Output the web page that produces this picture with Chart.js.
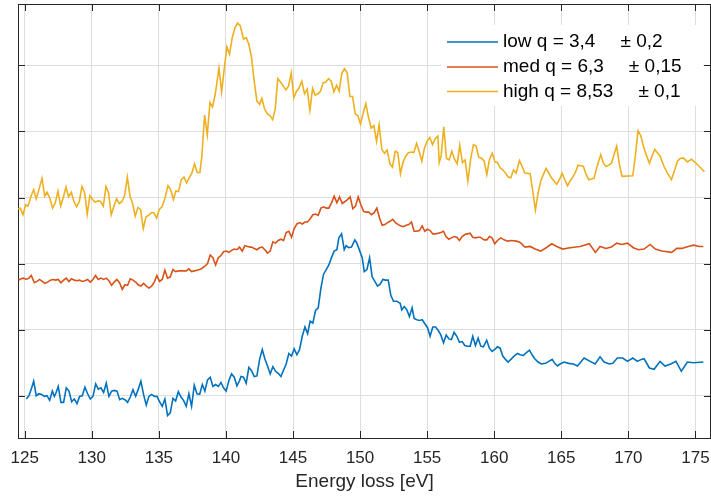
<!DOCTYPE html>
<html>
<head>
<meta charset="utf-8">
<script src="https://cdn.jsdelivr.net/npm/chart.js@4.4.0/dist/chart.umd.min.js"></script>
<style>
  html, body { margin: 0; padding: 0; background: #fff; }
  #wrap { width: 711px; height: 497px; }
</style>
</head>
<body>
<div id="wrap"><canvas id="eelsChart" width="711" height="497"></canvas></div>
<script>
// energy loss axis (eV) and intensity (arb. units)
const lowE = [125.12,125.32,125.52,125.67,125.86,126.06,126.26,126.46,126.66,126.86,127.06,127.21,127.31,127.50,127.70,127.90,128.10,128.30,128.50,128.70,128.90,129.09,129.29,129.49,129.69,129.89,130.09,130.29,130.49,130.68,130.88,131.08,131.28,131.48,131.68,131.88,132.08,132.27,132.47,132.67,132.87,133.07,133.27,133.47,133.66,133.86,134.06,134.26,134.46,134.66,134.86,135.05,135.25,135.45,135.65,135.85,136.05,136.25,136.45,136.65,136.84,137.04,137.24,137.44,137.64,137.84,138.04,138.24,138.43,138.63,138.83,139.03,139.23,139.43,139.63,139.82,140.02,140.22,140.42,140.62,140.82,141.02,
  141.12,141.31,141.51,141.71,141.91,142.11,142.31,142.51,142.71,142.90,143.10,143.30,143.50,143.70,143.90,144.10,144.30,144.49,144.69,144.89,145.09,145.29,145.49,145.69,145.89,146.09,146.28,146.48,146.68,146.88,147.08,
  147.28,147.48,147.67,147.87,148.07,148.27,148.42,148.62,148.82,148.96,149.16,149.36,149.61,149.76,149.96,150.16,150.31,150.51,150.71,150.90,151.10,151.30,151.50,151.70,151.90,152.10,152.29,
  152.49,152.74,152.99,153.11,153.29,153.49,153.68,153.88,154.03,154.23,154.43,154.63,154.83,155.03,155.22,155.42,155.62,155.82,156.02,156.22,156.42,156.62,156.81,157.01,157.21,157.41,157.61,157.81,158.01,158.21,
  158.40,158.60,158.80,159.00,159.19,159.44,159.64,159.84,160.04,160.24,160.44,160.64,160.84,161.04,161.24,161.48,161.73,161.93,162.18,162.38,162.63,162.82,163.02,163.27,163.52,163.82,164.07,164.32,164.51,164.71,164.91,165.21,165.54,165.91,166.20,166.70,167.15,167.52,167.89,168.19,168.59,168.84,169.18,169.58,169.93,170.33,170.67,170.97,171.17,171.57,171.92,172.36,172.73,173.16,173.55,173.95,174.40,174.84,175.59];
const lowQ = [0.95,1.00,1.12,1.22,1.00,1.03,1.02,0.99,1.00,0.93,1.07,0.99,1.03,1.14,0.90,0.90,1.12,1.07,0.91,0.95,0.88,0.99,1.00,1.13,1.03,0.95,0.99,1.18,1.10,1.12,1.05,1.19,0.99,1.07,1.08,1.07,0.94,0.96,0.94,0.90,0.98,1.09,0.99,1.10,1.22,1.02,0.86,0.99,1.02,0.99,0.99,0.91,0.84,0.95,0.70,0.74,0.96,0.92,1.06,0.98,0.93,0.84,1.03,0.84,1.16,1.03,1.02,1.17,1.07,1.24,1.28,1.14,1.17,1.14,1.20,1.12,1.07,1.23,1.33,1.28,1.15,1.23,
  1.29,1.28,1.19,1.43,1.38,1.29,1.30,1.55,1.70,1.56,1.45,1.33,1.44,1.37,1.34,1.29,1.39,1.48,1.64,1.60,1.71,1.62,1.70,1.90,2.04,1.94,2.13,2.10,2.29,2.33,2.63,
  2.84,2.91,2.98,3.09,3.19,3.21,3.39,3.45,3.21,3.27,3.24,3.25,3.36,3.31,3.20,3.09,2.88,2.91,3.09,2.80,2.73,2.66,2.69,2.76,2.75,2.75,2.52,
  2.43,2.43,2.40,2.30,2.35,2.30,2.20,2.33,2.17,2.15,2.14,2.15,2.09,2.03,1.90,2.04,2.04,1.99,1.92,1.80,1.92,1.86,1.85,1.96,1.90,1.81,1.82,1.76,1.75,1.75,
  1.90,1.76,1.87,1.75,1.74,1.84,1.72,1.67,1.70,1.74,1.72,1.60,1.55,1.51,1.55,1.60,1.64,1.62,1.61,1.65,1.69,1.62,1.56,1.51,1.48,1.49,1.52,1.55,1.49,1.45,1.48,1.51,1.49,1.48,1.45,1.57,1.52,1.48,1.59,1.51,1.48,1.49,1.57,1.57,1.52,1.57,1.52,1.55,1.56,1.42,1.40,1.52,1.45,1.48,1.52,1.37,1.51,1.50,1.51];

const medE = [124.55,124.72,124.92,125.12,125.32,125.49,125.72,125.91,126.11,126.31,126.51,126.71,126.91,127.11,127.31,127.50,127.70,127.90,128.10,128.30,128.50,128.70,128.89,129.09,129.29,129.49,129.69,129.89,130.09,130.28,130.48,130.68,130.88,131.08,131.28,131.48,131.67,131.87,132.07,132.27,132.47,132.67,132.87,133.07,133.27,133.46,133.66,133.86,134.06,134.26,134.46,134.66,134.85,135.05,135.25,135.45,135.65,135.85,136.05,136.25,136.44,136.64,136.84,137.04,137.24,137.44,137.64,137.84,138.04,138.23,138.43,138.63,138.83,139.03,139.23,139.43,139.62,139.82,140.02,140.22,140.42,140.62,140.82,141.01,141.21,141.41,141.61,141.81,
  141.91,142.11,142.31,142.51,142.71,142.90,143.10,143.30,143.50,143.70,143.90,144.10,144.30,144.49,144.69,144.89,145.09,145.29,145.49,145.69,145.89,146.08,146.28,146.48,146.68,146.88,147.08,147.28,147.48,147.67,147.87,148.07,148.27,148.47,148.67,148.87,149.06,149.26,149.46,149.66,149.86,150.06,150.26,150.46,150.65,150.85,151.05,151.25,151.45,151.65,151.85,152.04,152.24,152.44,152.64,152.84,153.04,153.24,153.43,153.63,153.83,154.03,154.23,154.43,154.63,154.82,155.02,155.22,155.42,155.62,155.82,156.02,156.22,156.41,156.61,156.81,157.01,157.21,157.41,157.61,157.81,158.00,158.20,158.40,158.60,158.80,158.95,
  159.25,159.45,159.65,159.84,160.04,160.24,160.49,160.74,160.99,161.24,161.68,161.93,162.30,162.68,163.05,163.47,163.87,164.29,164.66,165.11,165.65,166.40,167.09,167.54,167.89,168.33,168.73,169.13,169.50,169.93,170.37,170.75,171.17,171.62,172.01,172.49,173.23,173.61,173.98,174.47,174.85,175.29,175.59];
const medQ = [2.75,2.77,2.78,2.76,2.78,2.82,2.71,2.73,2.76,2.73,2.70,2.72,2.75,2.76,2.75,2.76,2.71,2.75,2.78,2.73,2.77,2.75,2.74,2.75,2.73,2.74,2.76,2.72,2.76,2.82,2.76,2.78,2.76,2.78,2.74,2.67,2.72,2.76,2.71,2.61,2.68,2.67,2.77,2.75,2.72,2.68,2.66,2.70,2.66,2.63,2.66,2.72,2.82,2.73,2.76,2.90,2.78,2.80,2.91,2.88,2.89,2.89,2.89,2.89,2.92,2.88,2.89,2.90,2.91,2.93,2.96,3.00,3.13,3.09,2.98,3.09,3.12,3.18,3.19,3.17,3.20,3.22,3.21,3.25,3.19,3.27,3.26,3.25,
  3.25,3.23,3.21,3.24,3.25,3.21,3.16,3.19,3.33,3.31,3.35,3.37,3.35,3.47,3.49,3.40,3.53,3.60,3.62,3.60,3.63,3.63,3.68,3.74,3.75,3.73,3.84,3.86,3.84,3.84,3.92,4.02,3.92,4.01,3.91,3.94,3.97,4.01,3.83,3.87,4.01,3.89,3.79,3.78,3.78,3.74,3.77,3.84,3.69,3.58,3.59,3.62,3.64,3.67,3.62,3.59,3.57,3.56,3.58,3.59,3.63,3.49,3.49,3.50,3.57,3.49,3.52,3.50,3.45,3.45,3.46,3.47,3.49,3.41,3.37,3.39,3.41,3.40,3.35,3.41,3.44,3.45,3.46,3.40,3.39,3.40,3.40,
  3.36,3.36,3.41,3.39,3.30,3.35,3.39,3.36,3.34,3.35,3.34,3.32,3.25,3.26,3.22,3.19,3.24,3.30,3.26,3.22,3.24,3.26,3.30,3.17,3.26,3.23,3.25,3.31,3.29,3.31,3.24,3.21,3.22,3.29,3.22,3.19,3.17,3.23,3.23,3.26,3.28,3.26,3.26];

const highE = [124.50,124.67,124.87,125.07,125.24,125.47,125.67,125.86,126.06,126.29,126.49,126.66,126.86,127.08,127.28,127.48,127.68,127.90,128.08,128.27,128.47,128.67,128.87,129.07,129.27,129.47,129.66,129.86,130.06,130.26,130.46,130.66,130.86,131.06,131.25,131.45,131.65,131.85,132.05,132.25,132.45,132.65,132.85,133.04,133.24,133.44,133.64,133.84,134.04,134.24,134.43,134.63,134.83,135.03,135.23,135.43,135.68,135.88,136.08,136.27,136.47,136.67,136.87,137.07,137.27,137.46,137.66,137.86,138.06,138.21,138.41,138.61,138.81,139.00,139.20,139.48,139.68,139.88,140.07,140.27,140.47,140.67,140.87,141.07,
  141.31,141.51,141.71,141.91,142.11,142.31,142.51,142.68,142.88,143.08,143.28,143.48,143.67,143.87,144.07,144.27,144.47,144.67,144.87,145.06,145.26,145.46,145.66,145.86,146.06,146.26,146.46,146.65,146.85,147.05,147.25,147.45,147.65,147.85,148.05,148.25,148.44,148.64,148.84,149.04,149.24,149.44,149.64,149.84,150.03,150.23,150.43,150.63,150.83,151.03,151.23,151.42,151.62,151.82,152.02,152.22,152.42,152.62,152.81,153.01,153.21,153.41,153.61,153.81,154.01,154.21,154.40,154.60,154.80,155.00,155.20,155.40,155.60,155.80,155.90,156.04,156.24,156.44,156.64,156.84,157.04,157.24,157.43,157.63,157.83,158.03,
  158.25,158.45,158.65,158.85,159.05,159.25,159.45,159.65,159.85,160.05,160.24,160.44,160.64,160.84,161.04,161.24,161.44,161.63,161.88,162.08,162.28,162.68,162.87,163.07,163.27,163.47,163.67,163.87,164.07,164.26,164.46,164.66,164.86,165.06,165.26,165.46,165.66,165.85,166.05,166.25,166.45,166.65,166.85,167.05,167.25,167.44,167.64,167.94,168.14,168.34,168.54,168.74,168.93,169.13,169.33,169.53,170.33,170.52,170.72,170.92,171.12,171.32,171.57,171.77,171.97,172.16,172.36,172.66,172.91,173.21,173.46,173.65,173.85,174.10,174.40,174.70,174.99,175.29,175.67];
const highQ = [3.83,3.84,3.74,3.89,3.87,4.02,4.12,3.98,4.12,4.29,4.02,4.08,4.00,3.84,3.92,4.10,3.87,4.02,4.16,4.01,4.08,3.94,3.86,3.94,4.17,4.07,3.75,4.03,3.97,3.93,3.95,3.94,3.87,4.17,4.07,3.74,3.87,3.98,3.91,3.94,4.03,4.31,4.02,3.91,3.72,3.85,3.82,3.53,3.71,3.73,3.77,3.77,3.69,3.82,3.86,3.97,4.18,4.12,3.97,4.10,4.09,4.27,4.31,4.22,4.30,4.37,4.51,4.38,4.38,4.63,5.25,4.95,5.44,5.37,5.56,5.96,5.60,5.96,6.28,6.17,6.42,6.57,6.64,6.60,
  6.40,6.42,6.32,6.12,5.76,5.46,5.41,5.50,5.34,5.27,5.24,5.18,5.33,5.80,5.75,5.69,5.63,5.69,5.89,5.51,5.61,5.66,5.76,5.57,5.64,5.32,5.65,5.55,5.57,5.61,5.74,5.75,5.80,5.76,5.60,5.70,5.61,5.88,5.95,5.89,5.53,5.53,5.26,5.24,5.11,5.28,5.42,5.21,5.05,5.09,4.85,5.10,4.73,4.67,4.72,4.51,4.46,4.70,4.68,4.36,4.54,4.63,4.68,4.69,4.68,4.82,4.70,4.55,4.75,4.85,4.91,4.80,4.89,4.93,4.53,4.63,5.07,4.59,4.57,4.70,4.58,4.51,4.79,4.53,4.57,4.25,
  4.59,4.80,4.78,4.61,4.60,4.55,4.35,4.58,4.67,4.54,4.53,4.45,4.42,4.37,4.31,4.30,4.42,4.37,4.56,4.47,4.37,4.36,4.10,3.81,4.07,4.25,4.35,4.44,4.37,4.30,4.25,4.20,4.27,4.37,4.27,4.18,4.25,4.31,4.38,4.49,4.48,4.47,4.35,4.27,4.28,4.29,4.45,4.65,4.52,4.47,4.49,4.52,4.65,4.78,4.50,4.32,4.33,4.63,5.01,4.94,4.78,4.65,4.52,4.63,4.73,4.68,4.63,4.47,4.37,4.27,4.42,4.55,4.59,4.60,4.54,4.58,4.53,4.47,4.39];

const seriesNames = ['low q = 3,4', 'med q = 6,3', 'high q = 8,53'];
const seriesErr = ['± 0,2', '± 0,15', '± 0,1'];
const seriesColors = ['#0072BD', '#D95319', '#EDB120'];

const FONT = "'Liberation Sans', Arial, Helvetica, sans-serif";
const INK = '#262626';
const GRID = '#dedede';

function toPoints(e, q) {
    var n = Math.min(e.length, q.length), out = [];
    for (var i = 0; i < n; i++) out.push({ x: e[i], y: q[i] });
    return out;
}

// matlab style box: inside tick marks on all four sides + legend box
const matlabBox = {
    id: 'matlabBox',
    afterDatasetsDraw: function (chart) {
        var ctx = chart.ctx, a = chart.chartArea;
        var xs = chart.scales.x, ys = chart.scales.y;
        ctx.save();

        // legend (no border, white background)
        ctx.fillStyle = '#fff';
        ctx.fillRect(441, 25, 262, 81);
        var rowsY = [42, 67, 91.5];
        ctx.font = '19px ' + FONT;
        ctx.textBaseline = 'middle';
        chart.data.datasets.forEach(function (ds, i) {
            ctx.strokeStyle = ds.borderColor;
            ctx.lineWidth = 1.6;
            ctx.beginPath();
            ctx.moveTo(447, rowsY[i]);
            ctx.lineTo(498, rowsY[i]);
            ctx.stroke();
            ctx.fillStyle = '#000';
            ctx.fillText(ds.label, 503, rowsY[i]);
            var w = ctx.measureText(ds.label).width;
            ctx.fillText(seriesErr[i], 503 + w + 25, rowsY[i]);
        });

        // box + ticks
        ctx.strokeStyle = INK;
        ctx.lineWidth = 1;
        ctx.beginPath();
        ctx.moveTo(a.left, a.top + 0.5);
        ctx.lineTo(a.right, a.top + 0.5);
        ctx.moveTo(a.right - 0.5, a.top);
        ctx.lineTo(a.right - 0.5, a.bottom);
        xs.ticks.forEach(function (t) {
            var px = Math.round(xs.getPixelForValue(t.value)) + 0.5;
            ctx.moveTo(px, a.bottom);
            ctx.lineTo(px, a.bottom - 7);
            ctx.moveTo(px, a.top);
            ctx.lineTo(px, a.top + 7);
        });
        ys.ticks.forEach(function (t) {
            var py = Math.round(ys.getPixelForValue(t.value)) + 0.5;
            ctx.moveTo(a.left, py);
            ctx.lineTo(a.left + 7, py);
            ctx.moveTo(a.right, py);
            ctx.lineTo(a.right - 7, py);
        });
        ctx.stroke();
        ctx.restore();
    }
};

document.addEventListener('DOMContentLoaded', function () {
    var ctx = document.getElementById('eelsChart').getContext('2d');
    var eelsChart = new Chart(ctx, {
        type: 'line',
        data: {
            datasets: [
                { label: seriesNames[0], data: toPoints(lowE, lowQ), borderColor: seriesColors[0] },
                { label: seriesNames[1], data: toPoints(medE, medQ), borderColor: seriesColors[1] },
                { label: seriesNames[2], data: toPoints(highE, highQ), borderColor: seriesColors[2] }
            ]
        },
        options: {
            responsive: false,
            animation: false,
            layout: { padding: { left: 0, right: 0, top: 4, bottom: 0 } },
            elements: {
                line: { borderWidth: 1.6, tension: 0, fill: false },
                point: { radius: 0 }
            },
            plugins: {
                legend: { display: false },
                tooltip: { enabled: false }
            },
            scales: {
                x: {
                    type: 'linear',
                    min: 124.5,
                    max: 176.16,
                    afterFit: function (s) {
                        s.height = 59;
                        s.paddingLeft = 0;
                        s.paddingRight = 0;
                    },
                    ticks: {
                        stepSize: 5, includeBounds: false, autoSkip: false, maxRotation: 0,
                        color: INK, font: { family: FONT, size: 17 }, padding: 10
                    },
                    grid: { color: GRID, drawTicks: false },
                    border: { color: INK, width: 1 },
                    title: {
                        display: true, text: 'Energy loss [eV]', color: INK,
                        font: { family: FONT, size: 19 }, padding: { top: 0, bottom: 4 }
                    }
                },
                y: {
                    min: 0.36,
                    max: 6.93,
                    afterFit: function (s) { s.width = 18; },
                    ticks: { display: false, stepSize: 1, includeBounds: false },
                    grid: { color: GRID, drawTicks: false },
                    border: { color: INK, width: 1 }
                }
            }
        },
        plugins: [matlabBox]
    });
});
</script>
</body>
</html>
